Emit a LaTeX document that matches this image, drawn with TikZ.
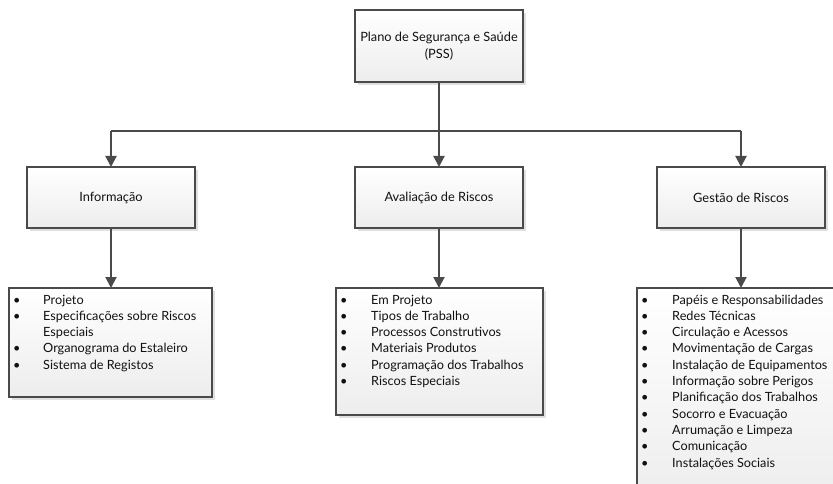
\documentclass[tikz,border=0pt]{standalone}
\usepackage{fontspec}
\setmainfont{Lato}
\usetikzlibrary{arrows.meta,shadows}
\definecolor{edge}{HTML}{4A4A4A}
\definecolor{ink}{HTML}{111111}
\definecolor{boxbot}{HTML}{EDEDED}
\tikzset{
  box/.style={draw=edge, line width=1.3pt, top color=white, bottom color=boxbot,
    drop shadow={shadow xshift=3pt, shadow yshift=-3pt, fill=black!12, opacity=1},
    inner sep=0pt, outer sep=0pt, text=ink, align=center, font=\fontsize{12.8}{17}\selectfont},
  conn/.style={draw=edge, line width=2pt},
  arr/.style={conn, -{Triangle[width=11pt,length=11pt]}},
  listtext/.style={anchor=base west, inner sep=0pt, text=ink, font=\fontsize{12.7}{16.3}\selectfont}
}
\newcommand{\blt}{\textbullet}
\begin{document}
\begin{tikzpicture}[x=1pt,y=-1pt]
\useasboundingbox (0,0) rectangle (833,484);
\begin{scope}
\clip (0,0) rectangle (833,484);
% top
\node[box, minimum width=168pt, minimum height=72pt] (pss) at (439,46) {Plano de Segurança e Saúde\\(PSS)};
% middle
\node[box, minimum width=168pt, minimum height=61pt] (info) at (111,197.5) {Informação};
\node[box, minimum width=168pt, minimum height=61pt] (aval) at (439,197.5) {Avaliação de Riscos};
\node[box, minimum width=168pt, minimum height=61pt] (gest) at (741,197.5) {Gestão de Riscos};
% bottom boxes
\node[box, minimum width=203pt, minimum height=109pt] (infol) at (110.5,342.5) {};
\node[box, minimum width=207pt, minimum height=127pt] (avall) at (439.5,351.5) {};
\node[box, minimum width=220pt, minimum height=215pt] (gestl) at (747,395.5) {};
% connectors
\coordinate (hb) at (439,131);
\coordinate (hl) at (111,131);
\coordinate (hr) at (741,131);
\draw[conn] (pss.south) -- (hb);
\draw[conn] (hl) -- (hr);
\draw[arr] (hl) -- (info.north);
\draw[arr] (hb) -- (aval.north);
\draw[arr] (hr) -- (gest.north);
\draw[arr] (info.south) -- (info.south |- infol.north);
\draw[arr] (aval.south) -- (aval.south |- avall.north);
\draw[arr] (gest.south) -- (gest.south |- gestl.north);
% lists
\node[listtext] (infot) at (13,304) {\begin{tabular}[t]{@{}p{30pt}@{}l@{}}
\blt & Projeto\\
\blt & Especificações sobre Riscos\\
 & Especiais\\
\blt & Organograma do Estaleiro\\
\blt & Sistema de Registos
\end{tabular}};
\node[listtext] (avalt) at (340,304) {\begin{tabular}[t]{@{}p{31pt}@{}l@{}}
\blt & Em Projeto\\
\blt & Tipos de Trabalho\\
\blt & Processos Construtivos\\
\blt & Materiais Produtos\\
\blt & Programação dos Trabalhos\\
\blt & Riscos Especiais
\end{tabular}};
\node[listtext] (gestt) at (641,304) {\begin{tabular}[t]{@{}p{31pt}@{}l@{}}
\blt & Papéis e Responsabilidades\\
\blt & Redes Técnicas\\
\blt & Circulação e Acessos\\
\blt & Movimentação de Cargas\\
\blt & Instalação de Equipamentos\\
\blt & Informação sobre Perigos\\
\blt & Planificação dos Trabalhos\\
\blt & Socorro e Evacuação\\
\blt & Arrumação e Limpeza\\
\blt & Comunicação\\
\blt & Instalações Sociais
\end{tabular}};
\end{scope}
\end{tikzpicture}
\end{document}
